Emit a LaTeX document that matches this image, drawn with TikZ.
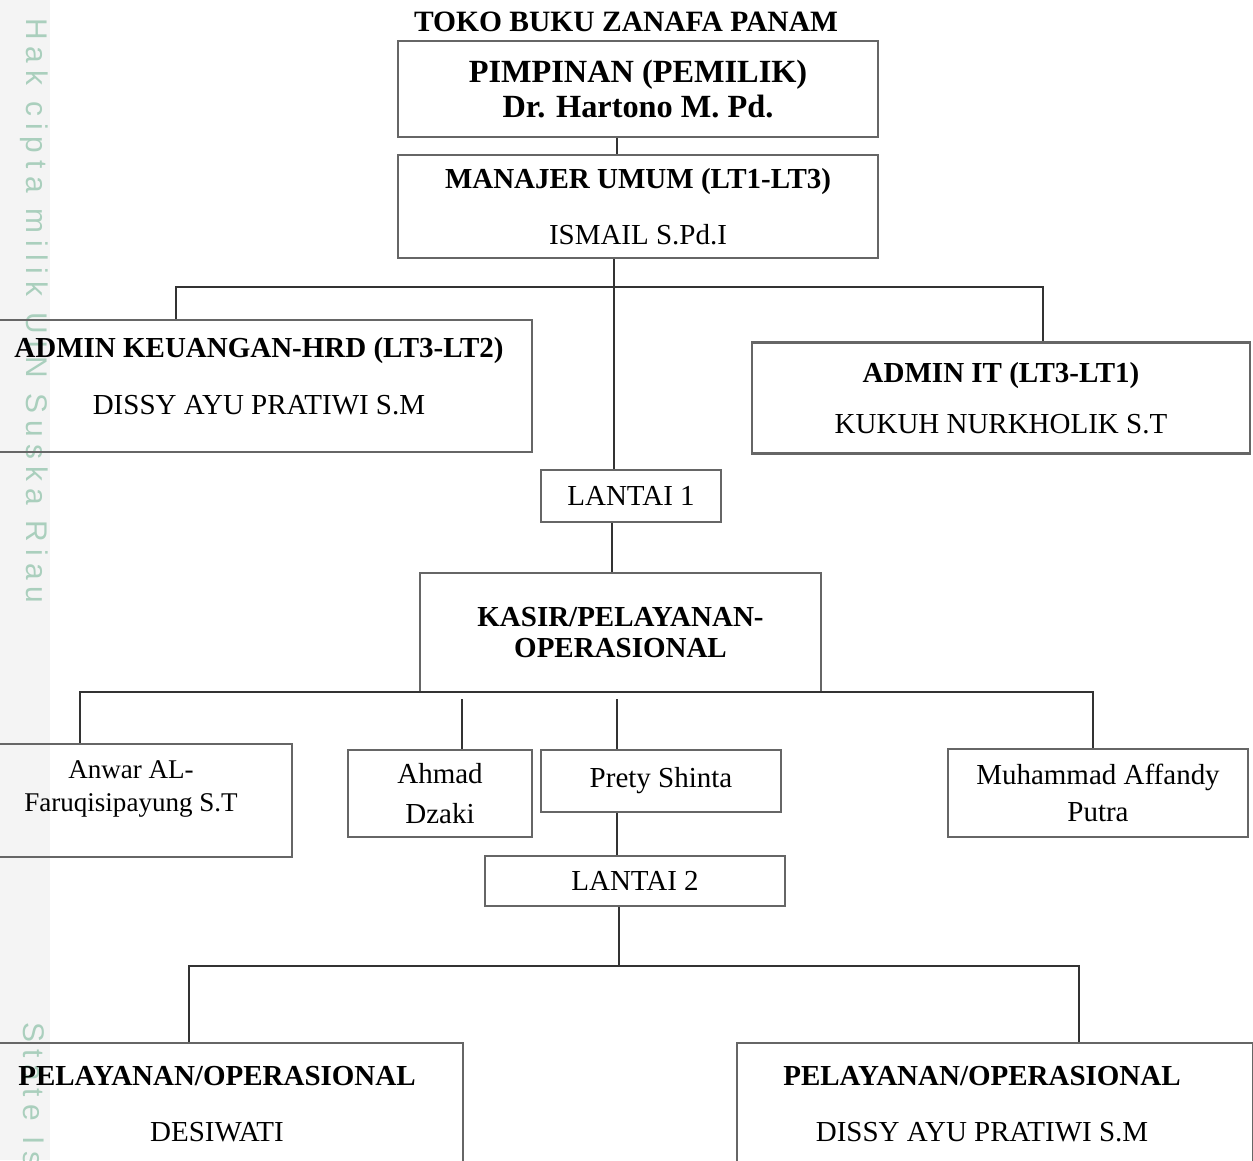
\documentclass[tikz,border=0pt]{standalone}
\usepackage{fontspec}
\setmainfont{Liberation Serif}
\newfontfamily\wmfont[LetterSpace=24]{Liberation Sans}
\usepackage{tikz}
\usetikzlibrary{positioning}
\definecolor{boxgray}{HTML}{666666}
\definecolor{wiregray}{HTML}{333333}
\definecolor{wmgreen}{HTML}{AACFBD}
\definecolor{bandgray}{HTML}{F4F4F4}
\tikzset{
  unit/.style={box, draw=boxgray, line width=1.3pt, inner sep=0pt, align=center},
  box/.style={font=\fontsize{16.5}{20.5}\selectfont},
  wire/.style={draw=wiregray, line width=0.9pt},
  wmtext/.style={text=wmgreen, font=\wmfont\fontsize{17}{18}\selectfont, rotate=-90, anchor=west},
  sz/.style 2 args={minimum width=#1*0.02cm, minimum height=#2*0.02cm},
}

\begin{document}
\begin{tikzpicture}[x=0.02cm, y=-0.02cm]
\useasboundingbox (0,0) rectangle (1253,1160);
\clip (0,0) rectangle (1253,1160);

% watermark
\fill[bandgray] (0,0) rectangle (50,1160);
\node[wmtext] (wmark) at (34,12) {Hak cipta milik UIN Suska Riau};
\node[wmtext] (wmark2) at (34,1016) {State Is};

\node[box, font=\fontsize{16.8}{20.5}\selectfont\bfseries] (title) at (626,22) {TOKO BUKU ZANAFA PANAM};

\node[unit, sz={480}{96}, font=\fontsize{18.4}{20.4}\selectfont\bfseries] (pimp) at (638,89) {PIMPINAN (PEMILIK)\\Dr. Hartono M. Pd.};
\node[unit, sz={480}{103}] (man) at (638,206.5) {\textbf{MANAJER UMUM (LT1-LT3)}\\[11.2pt]ISMAIL S.Pd.I};

\node[unit, sz={540}{132}] (keu) at (262,386) {};
\node[box, align=center] (keutxt) at (259,376.5) {\textbf{ADMIN KEUANGAN-HRD (LT3-LT2)}\\[11.8pt]DISSY AYU PRATIWI S.M};
\node[unit, sz={498}{111}] (it) at (1001,398) {\textbf{ADMIN IT (LT3-LT1)}\\[8.4pt]KUKUH NURKHOLIK S.T};

\node[unit, sz={180}{52}] (lt1) at (631,496) {LANTAI 1};
\node[unit, sz={401}{119}, font=\fontsize{16.5}{18.1}\selectfont\bfseries] (kasir) at (620.5,632.5) {KASIR/PELAYANAN-\\OPERASIONAL};

\node[unit, sz={300}{113}] (anwar) at (142,800.5) {};
\node[box, align=center, font=\fontsize{15.4}{18.7}\selectfont] (anwartxt) at (131,789) {Anwar AL-\\Faruqisipayung S.T};
\node[unit, sz={184}{87}, font=\fontsize{16.5}{22.7}\selectfont] (ahmad) at (440,793.5) {Ahmad\\Dzaki};
\node[unit, sz={240}{62}] (prety) at (661,781) {Prety Shinta};
\node[unit, sz={300}{88}, font=\fontsize{16.5}{21}\selectfont] (muh) at (1098,793) {Muhammad Affandy\\Putra};

\node[unit, sz={300}{50}] (lt2) at (635,881) {LANTAI 2};

\node[unit, sz={468}{122}] (pel1) at (229,1104) {\hspace*{-0.48cm}\textbf{PELAYANAN/OPERASIONAL}\\[11.2pt]\hspace*{-0.48cm}DESIWATI};
\node[unit, sz={516}{122}] (pel2) at (995,1104) {\hspace*{-0.52cm}\textbf{PELAYANAN/OPERASIONAL}\\[11.2pt]\hspace*{-0.52cm}DISSY AYU PRATIWI S.M};

% connector points
\coordinate (s0) at (617,0);
\coordinate (s1) at (614,0);
\coordinate (s2) at (612,0);
\coordinate (b1l) at (176,287);
\coordinate (b1r) at (1043,287);
\coordinate (b2l) at (80,692);
\coordinate (b2r) at (1093,692);
\coordinate (s3) at (462,0);
\coordinate (s4) at (617,0);
\coordinate (t3) at (619,966);
\coordinate (b3l) at (189,966);
\coordinate (b3r) at (1079,966);

\draw[wire] (pimp.south -| s0) -- (man.north -| s0);
\draw[wire] (man.south -| s1) -- (lt1.north -| s1);
\draw[wire] (keu.north -| b1l) -- (b1l) -- (b1r) -- (it.north -| b1r);
\draw[wire] (lt1.south -| s2) -- (kasir.north -| s2);
\draw[wire] (anwar.north -| b2l) -- (b2l) -- (b2r) -- (muh.north -| b2r);
\draw[wire] (ahmad.north -| s3) -- ++(0,-50);
\draw[wire] (prety.north -| s4) -- ++(0,-50);
\draw[wire] (prety.south -| s4) -- (lt2.north -| s4);
\draw[wire] (lt2.south -| t3) -- (t3);
\draw[wire] (pel1.north -| b3l) -- (b3l) -- (b3r) -- (pel2.north -| b3r);
\end{tikzpicture}
\end{document}
